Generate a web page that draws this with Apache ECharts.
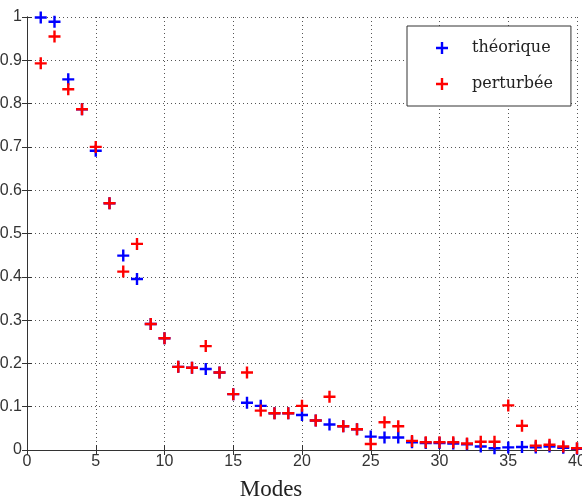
<!doctype html>
<html>
<head>
<meta charset="UTF-8">
<title>Modes</title>
<script src="https://cdn.jsdelivr.net/npm/echarts@6/dist/echarts.min.js"></script>
<style>
  body { margin: 0; padding: 0; background: #fff; }
  #main { width: 582px; height: 502px; }
</style>
</head>
<body>
<div id="main"></div>
<script>
var modes = [];
for (var i = 1; i <= 40; i++) modes.push(i);

// valeurs
var theorique = [0.999, 0.989, 0.856, 0.787, 0.691, 0.57, 0.449, 0.395, 0.291, 0.258,
                 0.192, 0.19, 0.187, 0.179, 0.129, 0.109, 0.102, 0.085, 0.085, 0.081,
                 0.068, 0.059, 0.055, 0.048, 0.031, 0.029, 0.029, 0.018, 0.016, 0.016,
                 0.015, 0.013, 0.008, 0.004, 0.006, 0.007, 0.006, 0.008, 0.005, 0.003];
var perturbee = [0.893, 0.955, 0.833, 0.787, 0.70, 0.57, 0.412, 0.476, 0.291, 0.258,
                 0.192, 0.19, 0.24, 0.179, 0.129, 0.179, 0.091, 0.085, 0.085, 0.102,
                 0.068, 0.123, 0.055, 0.048, 0.014, 0.064, 0.055, 0.021, 0.018, 0.018,
                 0.018, 0.015, 0.019, 0.019, 0.103, 0.056, 0.01, 0.012, 0.008, 0.004];
var xTicks = [0, 5, 10, 15, 20, 25, 30, 35, 40];

var plus = 'path://M4,0h2v4h4v2h-4v4h-2v-4h-4v-2h4z';

function pts(vals) {
  return vals.map(function (v, i) { return [modes[i], v]; });
}

var chart = echarts.init(document.getElementById('main'));
var tickFont = { color: '#333', fontFamily: 'Liberation Sans, Arial, sans-serif', fontSize: 16 };
var split = { show: true, lineStyle: { color: '#555', type: [1, 3], width: 1 } };
var axLine = { show: true, lineStyle: { color: '#333', width: 1 } };
var tick = { show: true, inside: true, length: 5, lineStyle: { color: '#333' } };

chart.setOption({
  animation: false,
  grid: { left: 27, right: 5, top: 17, bottom: 52, outerBoundsMode: 'none', containLabel: false },
  legend: {
    orient: 'vertical',
    left: 407,
    top: 26,
    padding: [14, 18, 14, 29],
    itemGap: 20,
    itemWidth: 12,
    itemHeight: 12,
    backgroundColor: '#fff',
    borderColor: '#333',
    borderWidth: 1,
    textStyle: { fontFamily: 'DejaVu Serif, serif', fontSize: 16, color: '#222', padding: [0, 0, 0, 19] },
    data: [
      { name: 'théorique', icon: plus },
      { name: 'perturbée', icon: plus }
    ]
  },
  xAxis: [{
    type: 'value', min: 0, max: 40, interval: 5,
    name: 'Modes', nameLocation: 'middle', nameGap: 28,
    nameTextStyle: { fontFamily: 'Liberation Serif, serif', fontSize: 23, color: '#222', padding: [0, 62, 0, 0] },
    axisLine: axLine, axisTick: tick, splitLine: split,
    axisLabel: Object.assign({ margin: 4, formatter: function (v) { return xTicks.indexOf(v) >= 0 ? v : ''; } }, tickFont)
  }, {
    type: 'value', min: 0, max: 40, interval: 5, position: 'top',
    axisLine: axLine, axisTick: tick, splitLine: { show: false }, axisLabel: { show: false }
  }],
  yAxis: [{
    type: 'value', min: 0, max: 1, interval: 0.1,
    axisLine: axLine, axisTick: tick, splitLine: split,
    axisLabel: Object.assign({ margin: 5, formatter: function (v) { return +v.toFixed(1); } }, tickFont)
  }, {
    type: 'value', min: 0, max: 1, interval: 0.1, position: 'right',
    axisLine: axLine, axisTick: tick, splitLine: { show: false }, axisLabel: { show: false }
  }],
  series: [{
    name: 'théorique', type: 'scatter', symbol: plus, symbolSize: 12,
    itemStyle: { color: '#0000ff', opacity: 1 }, emphasis: { disabled: true },
    data: pts(theorique)
  }, {
    name: 'perturbée', type: 'scatter', symbol: plus, symbolSize: 12,
    itemStyle: { color: '#ff0000', opacity: 1 }, emphasis: { disabled: true },
    data: pts(perturbee)
  }]
});
</script>
</body>
</html>
